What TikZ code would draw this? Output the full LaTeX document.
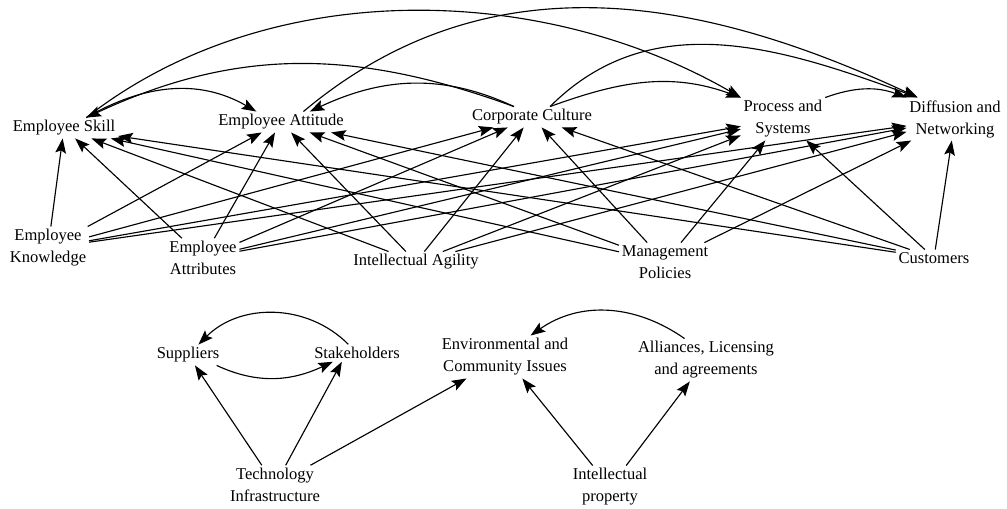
\documentclass[tikz,border=0pt]{standalone}
\usepackage{fontspec}
\setmainfont{Liberation Serif}
\usepackage{tikz}
\usetikzlibrary{arrows.meta}

\begin{document}
\begin{tikzpicture}[
    x=0.75pt, y=0.75pt,
    lbl/.style={align=center, inner sep=2pt, font=\fontsize{12.4}{16.5}\selectfont},
    arr/.style={-{Stealth[length=11pt, width=8pt, inset=2pt]}, line width=0.85pt},
]
\useasboundingbox (0,0) rectangle (1007,-509);

% Top row
\node[lbl] (skill) at (64,-128) {Employee Skill};
\node[lbl] (att) at (281,-122) {Employee Attitude};
\node[lbl] (cult) at (532,-117) {Corporate Culture};
\node[lbl] (proc) at (783,-119) {Process and\\Systems};
\node[lbl] (diff) at (955,-119) {Diffusion and\\Networking};

% Middle row
\node[lbl] (know) at (48,-248) {Employee\\Knowledge};
\node[lbl] (attr) at (203,-258) {Employee\\Attributes};
\node[lbl] (agil) at (416,-262) {Intellectual Agility};
\node[lbl] (mgmt) at (665,-262) {Management\\Policies};
\node[lbl] (cust) at (934,-258) {Customers};

% Bottom group
\node[lbl] (supp) at (188,-355) {Suppliers};
\node[lbl] (stake) at (357,-353) {Stakeholders};
\node[lbl] (env) at (505,-357) {Environmental and\\Community Issues};
\node[lbl] (alli) at (706,-360) {Alliances, Licensing\\and agreements};
\node[lbl] (tech) at (275,-485) {Technology\\Infrastructure};
\node[lbl] (ip) at (610,-487) {Intellectual\\property};

% Arcs over the top row
\draw[arr] (skill.25) to[out=30, in=150] (att.157);
\draw[arr] (cult.150) to[out=160, in=25] (skill.25);
\draw[arr] (skill.25) to[out=38, in=150, looseness=0.9] (proc.north west);
\draw[arr] (cult.150) to[out=155, in=25] (att.20);
\draw[arr] (att.25) to[out=40, in=155] (diff.150);
\draw[arr] (cult.30) to[out=20, in=160] (proc.north west);
\draw[arr] (cult.30) to[out=45, in=160] (diff.150);
\draw[arr] (proc.north east) to[out=20, in=160] (diff.north west);

% Middle row -> top row
\draw[arr] (know) -- (skill);
\draw[arr] (know) -- (att);
\draw[arr] (know) -- (cult);
\draw[arr] (know) -- (proc);
\draw[arr] (know) -- (diff);

\draw[arr] (attr) -- (skill);
\draw[arr] (attr) -- (att);
\draw[arr] (attr) -- (cult);
\draw[arr] (attr) -- (proc);
\draw[arr] (attr) -- (diff);

\draw[arr] (agil) -- (skill);
\draw[arr] (agil) -- (att);
\draw[arr] (agil) -- (cult);
\draw[arr] (agil) -- (proc);
\draw[arr] (agil) -- (diff);

\draw[arr] (mgmt) -- (skill);
\draw[arr] (mgmt) -- (att);
\draw[arr] (mgmt) -- (cult);
\draw[arr] (mgmt) -- (proc);
\draw[arr] (mgmt) -- (diff);

\draw[arr] (cust) -- (skill);
\draw[arr] (cust) -- (att);
\draw[arr] (cust) -- (cult);
\draw[arr] (cust) -- (proc);
\draw[arr] (cust) -- (diff);

% Bottom links
\draw[arr] (stake.135) to[out=135, in=45] (supp.45);
\draw[arr] (supp.-20) to[out=-25, in=-155] (stake.200);
\draw[arr] (tech) -- (supp);
\draw[arr] (tech) -- (stake.210);
\draw[arr] (tech) -- (env);
\draw[arr] (alli.135) to[out=145, in=35] (env.40);
\draw[arr] (ip) -- (env);
\draw[arr] (ip) -- (alli);
\end{tikzpicture}
\end{document}
